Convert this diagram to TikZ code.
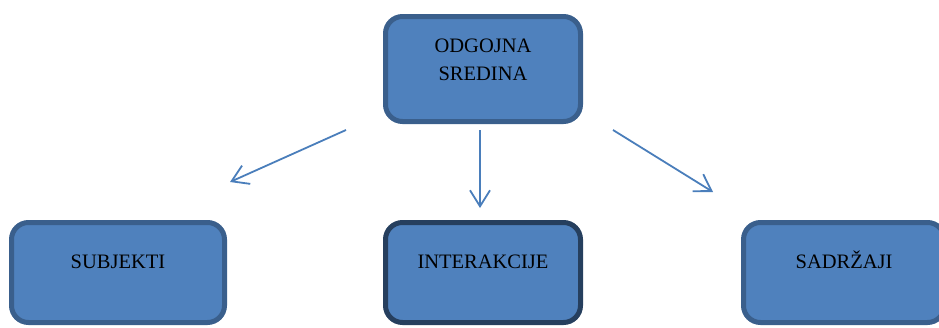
\documentclass[tikz,border=0pt]{standalone}
\usepackage{fontspec}
\setmainfont{Liberation Serif}
\usetikzlibrary{arrows.meta}
\definecolor{boxfill}{HTML}{4F81BD}
\definecolor{boxline}{HTML}{3A5F8C}
\definecolor{boxdark}{HTML}{263F5E}
\definecolor{arrowcol}{HTML}{4A7EBB}
\tikzset{
  box/.style={draw=boxline, fill=boxfill, line width=5pt, rounded corners=17pt,
    inner xsep=0pt, inner ysep=0pt, align=center,
    font=\fontsize{20.5}{28}\selectfont, text=black, anchor=base},
  conn/.style={draw=arrowcol, line width=1.8pt,
    -{Straight Barb[length=16pt,width=20pt,line width=1.8pt]}}
}
\begin{document}
\begin{tikzpicture}[x=1pt,y=-1pt]
\useasboundingbox (0,0) rectangle (939,327);
\node[box, minimum width=195pt, text height=63.5pt, text depth=41.5pt]
  (sredina) at (483,80) {ODGOJNA\\SREDINA};
\node[box, minimum width=213pt, text height=45.5pt, text depth=54.5pt]
  (subjekti) at (118,268) {SUBJEKTI};
\node[box, draw=boxdark, minimum width=195pt, text height=45.5pt, text depth=54.5pt]
  (interakcije) at (483,268) {INTERAKCIJE};
\node[box, minimum width=201pt, text height=45.5pt, text depth=54.5pt]
  (sadrzaji) at (844,268) {SADRŽAJI};
\coordinate (aL1) at (346,130);
\coordinate (aL2) at (230,182);
\coordinate (aM1) at (480,130);
\coordinate (aM2) at (480,208);
\coordinate (aR1) at (613,130);
\coordinate (aR2) at (713,192);
\draw[conn] (aL1) -- (aL2);
\draw[conn] (aM1) -- (aM2);
\draw[conn] (aR1) -- (aR2);
\end{tikzpicture}
\end{document}
